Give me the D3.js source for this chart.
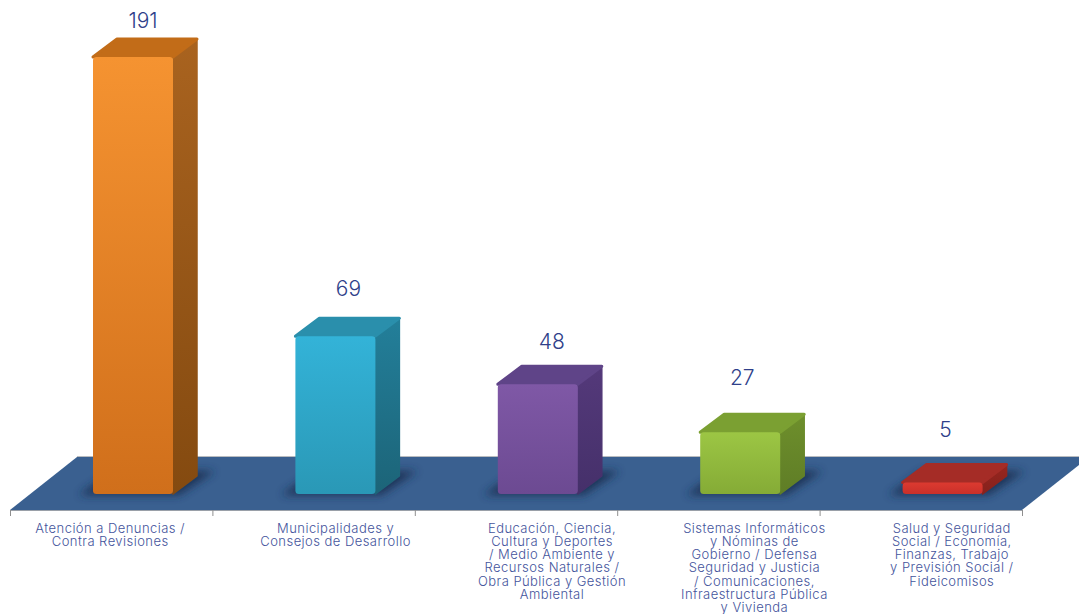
<!DOCTYPE html>
<html lang="es">
<head>
<meta charset="utf-8">
<script src="https://cdn.jsdelivr.net/npm/d3@7"></script>
<style>
  html, body { margin: 0; padding: 0; background: #fff; }
  svg { display: block; }
  text { font-family: Inter, "Open Sans", sans-serif; }
</style>
</head>
<body>
<svg id="chart" width="1079" height="614"></svg>
<script>
// Casos por área temática
const categories = ["A", "B", "C", "D", "E"];
const values = [191, 69, 48, 27, 5];
const labels = [
  ["Atención a Denuncias /", "Contra Revisiones"],
  ["Municipalidades y", "Consejos de Desarrollo"],
  ["Educación, Ciencia,", "Cultura y Deportes", "/ Medio Ambiente y", "Recursos Naturales /", "Obra Pública y Gestión", "Ambiental"],
  ["Sistemas Informáticos", "y Nóminas de", "Gobierno / Defensa", "Seguridad y Justicia", "/ Comunicaciones,", "Infraestructura Pública", "y Vivienda"],
  ["Salud y Seguridad", "Social / Economía,", "Finanzas, Trabajo", "y Previsión Social /", "Fideicomisos"]
];
// Face colours, one entry per bar
const frontTop = ["#f59331", "#33b3d8", "#7f58a6", "#9cc644", "#dc3a30"];
const frontBottom = ["#d06f1b", "#2a98b6", "#6c4a92", "#85ab36", "#c9302a"];
const sideTop = ["#a9631f", "#237f9a", "#54397a", "#6e8f2c", "#96261f"];
const sideBottom = ["#844a10", "#1c6478", "#45306a", "#5f7d26", "#86211c"];
const topFace = ["#c26c18", "#2a8fac", "#5f4488", "#7ba032", "#a52c26"];

// Hand placement of the annotations around each bar
const valueShiftX = [0, 3, 4, -8, -7];
const valueGap = [29, 40, 35, 47, 46];
const labelShiftX = [-1, 22, 36, 36, 31];

const svg = d3.select("#chart");
const defs = svg.append("defs");

const floorFront = 510, floorBack = 457, floorShift = 67;
const barFloorY = 494, depthX = 24, depthY = 18, barWidth = 80, barOffset = 83;

const x = d3.scaleBand().domain(categories).range([10, 1022]);
const edge = d3.scaleLinear().domain([0, categories.length]).range([10, 1022]);
const y = d3.scaleLinear().domain([0, 191]).range([barFloorY, 57]);

defs.append("filter").attr("id", "soft").attr("x", "-30%").attr("y", "-80%")
  .attr("width", "160%").attr("height", "260%")
  .append("feGaussianBlur").attr("stdDeviation", 4);

categories.forEach((c, i) => {
  const grad = (id, a, b) => {
    const g = defs.append("linearGradient").attr("id", id)
      .attr("x1", 0).attr("y1", 0).attr("x2", 0).attr("y2", 1);
    g.append("stop").attr("offset", "0%").attr("stop-color", a);
    g.append("stop").attr("offset", "100%").attr("stop-color", b);
  };
  grad("front" + i, frontTop[i], frontBottom[i]);
  grad("side" + i, sideTop[i], sideBottom[i]);
});

// Floor plane with its pale back edge
const [x0, x1] = edge.range();
svg.append("polygon")
  .attr("points", [[x0, floorFront], [x1, floorFront], [x1 + floorShift, floorBack], [x0 + floorShift, floorBack]].join(" "))
  .attr("fill", "#3a6090");
svg.append("line")
  .attr("x1", x0 + floorShift).attr("x2", 1079)
  .attr("y1", floorBack - 0.5).attr("y2", floorBack - 0.5)
  .attr("stroke", "#b9bcc0").attr("stroke-width", 1);
svg.append("line")
  .attr("x1", x0).attr("x2", x1)
  .attr("y1", floorFront + 0.5).attr("y2", floorFront + 0.5)
  .attr("stroke", "#9aa0a8").attr("stroke-width", 1);

// Category boundaries along the front edge
const axis = d3.axisBottom(edge)
  .tickValues(d3.range(categories.length + 1))
  .tickSize(6)
  .tickFormat("");
svg.append("g")
  .attr("transform", `translate(0,${floorFront})`)
  .call(axis)
  .call(g => g.select(".domain").remove())
  .call(g => g.selectAll("line").attr("stroke", "#8f8f8f"));

const bars = svg.selectAll("g.bar").data(categories).join("g").attr("class", "bar");

bars.each(function (c, i) {
  const g = d3.select(this);
  const left = x(c) + barOffset, right = left + barWidth;
  const top = y(values[i]);
  const poly = pts => pts.map(p => p.join(",")).join(" ");

  // Shadow cast on the floor
  g.append("polygon")
    .attr("points", poly([[left - 14, barFloorY + 1], [right + 6, barFloorY + 1], [right + 42, barFloorY - 23], [left + 20, barFloorY - 23]]))
    .attr("fill", "#1a3254").attr("opacity", 0.95).attr("filter", "url(#soft)");

  g.append("polygon")
    .attr("points", poly([[right, top], [right + depthX, top - depthY], [right + depthX, barFloorY - depthY], [right, barFloorY]]))
    .attr("fill", `url(#side${i})`).attr("stroke", `url(#side${i})`)
    .attr("stroke-width", 1.5).attr("stroke-linejoin", "round");

  g.append("polygon")
    .attr("points", poly([[left, top], [left + depthX, top - depthY], [right + depthX, top - depthY], [right, top]]))
    .attr("fill", topFace[i]).attr("stroke", topFace[i])
    .attr("stroke-width", 3).attr("stroke-linejoin", "round");

  g.append("rect")
    .attr("x", left).attr("y", top)
    .attr("width", barWidth).attr("height", barFloorY - top)
    .attr("rx", 3.5).attr("fill", `url(#front${i})`);

  g.append("text")
    .attr("x", left + barWidth / 2 + 10 + valueShiftX[i])
    .attr("y", top - valueGap[i])
    .attr("text-anchor", "middle")
    .attr("font-size", 21)
    .attr("font-weight", 300)
    .attr("fill", "#2f3f8a")
    .text(values[i]);

  const labelX = x(c) + x.bandwidth() / 2 + labelShiftX[i];
  const label = g.append("text")
    .attr("text-anchor", "middle")
    .attr("font-size", 13)
    .attr("font-weight", 300)
    .attr("letter-spacing", 0.45)
    .attr("fill", "#44549c");
  labels[i].forEach((line, k) => {
    label.append("tspan")
      .attr("x", labelX)
      .attr("y", 532.5 + k * 13.3)
      .text(line);
  });
});
</script>
</body>
</html>
